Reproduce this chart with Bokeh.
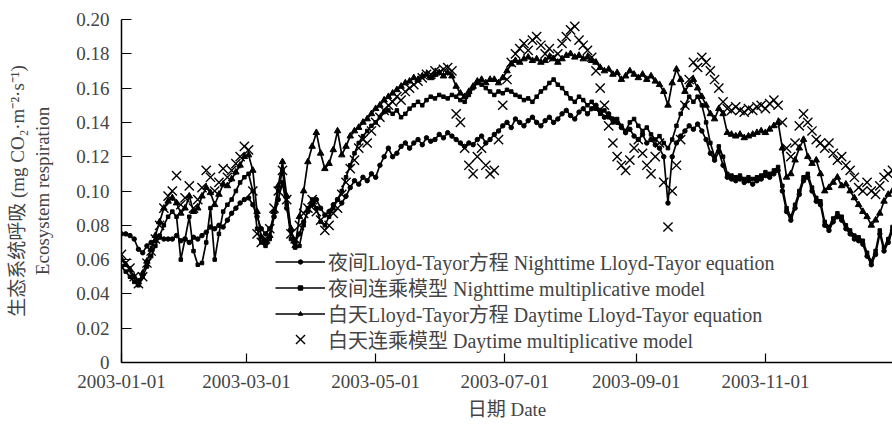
import datetime as dt

import pandas as pd
from bokeh.embed import file_html
from bokeh.models import (CustomJSTickFormatter, DatetimeTickFormatter, FixedTicker,
                          Legend, LegendItem, Range1d, Title)
from bokeh.plotting import figure
from bokeh.resources import INLINE

# Daily ecosystem respiration (mg CO2 m-2 s-1), sampled every second day of 2003
dates = pd.date_range("2003-01-01", "2003-12-31", freq="2D")

night_lt = [
    0.075, 0.075, 0.074, 0.072, 0.066, 0.064, 0.068, 0.070, 0.071, 0.073,
    0.072, 0.072, 0.072, 0.074, 0.071, 0.072, 0.070, 0.073, 0.072, 0.074,
    0.076, 0.079, 0.078, 0.080, 0.079, 0.083, 0.087, 0.090, 0.093, 0.095,
    0.096, 0.092, 0.085, 0.078, 0.075, 0.078, 0.085, 0.095, 0.105, 0.090,
    0.077, 0.070, 0.075, 0.082, 0.088, 0.092, 0.095, 0.090, 0.086, 0.088,
    0.092, 0.095, 0.093, 0.097, 0.102, 0.106, 0.104, 0.108, 0.106, 0.110,
    0.108, 0.115, 0.120, 0.125, 0.120, 0.122, 0.126, 0.128, 0.125, 0.128,
    0.130, 0.127, 0.131, 0.129, 0.130, 0.133, 0.131, 0.134, 0.132, 0.130,
    0.128, 0.126, 0.128, 0.127, 0.130, 0.132, 0.128, 0.130, 0.133, 0.135,
    0.138, 0.140, 0.137, 0.142, 0.140, 0.138, 0.141, 0.143, 0.140, 0.138,
    0.141, 0.143, 0.140, 0.142, 0.145, 0.147, 0.144, 0.142, 0.146, 0.148,
    0.145, 0.148, 0.150, 0.147, 0.143, 0.145, 0.142, 0.140, 0.137, 0.134,
    0.136, 0.132, 0.130, 0.133, 0.128, 0.130, 0.127, 0.125, 0.120, 0.093,
    0.120, 0.128, 0.132, 0.135, 0.138, 0.136, 0.139, 0.135, 0.130, 0.122,
    0.118, 0.123, 0.115, 0.108, 0.107, 0.106, 0.107, 0.105, 0.106, 0.104,
    0.106, 0.107, 0.109, 0.108, 0.110, 0.112, 0.100, 0.088, 0.083, 0.090,
    0.098, 0.106, 0.108, 0.100, 0.094, 0.092, 0.080, 0.077, 0.082, 0.085,
    0.083, 0.078, 0.075, 0.072, 0.071, 0.069, 0.062, 0.057, 0.063, 0.075,
    0.065, 0.070, 0.077,
]

night_mult = [
    0.056, 0.053, 0.050, 0.047, 0.045, 0.050, 0.056, 0.062, 0.068, 0.074,
    0.080, 0.085, 0.088, 0.085, 0.060, 0.072, 0.085, 0.065, 0.057, 0.058,
    0.070, 0.090, 0.060, 0.075, 0.088, 0.092, 0.095, 0.100, 0.105, 0.108,
    0.110, 0.100, 0.078, 0.070, 0.068, 0.072, 0.085, 0.100, 0.112, 0.092,
    0.072, 0.067, 0.068, 0.080, 0.090, 0.095, 0.090, 0.082, 0.080, 0.085,
    0.090, 0.095, 0.100, 0.108, 0.115, 0.122, 0.128, 0.132, 0.135, 0.138,
    0.140, 0.143, 0.146, 0.147, 0.145, 0.147, 0.143, 0.145, 0.148, 0.150,
    0.152, 0.150, 0.153, 0.155, 0.154, 0.156, 0.155, 0.154, 0.156, 0.155,
    0.153, 0.152, 0.156, 0.160, 0.163, 0.162, 0.160, 0.158, 0.156, 0.158,
    0.157, 0.159, 0.158, 0.156, 0.155, 0.153, 0.154, 0.152, 0.155, 0.158,
    0.160, 0.163, 0.165, 0.162, 0.160, 0.157, 0.154, 0.152, 0.155, 0.153,
    0.150, 0.152, 0.148, 0.145, 0.147, 0.143, 0.140, 0.142, 0.138, 0.135,
    0.140, 0.142, 0.138, 0.135, 0.137, 0.133, 0.130, 0.132, 0.128, 0.125,
    0.130, 0.138, 0.145, 0.150, 0.155, 0.152, 0.155, 0.150, 0.140, 0.128,
    0.120, 0.126, 0.120, 0.110, 0.109, 0.108, 0.109, 0.107, 0.108, 0.107,
    0.108, 0.109, 0.111, 0.110, 0.112, 0.114, 0.103, 0.090, 0.085, 0.092,
    0.100, 0.108, 0.110, 0.102, 0.096, 0.094, 0.082, 0.079, 0.084, 0.087,
    0.085, 0.080, 0.077, 0.074, 0.073, 0.071, 0.064, 0.059, 0.065, 0.077,
    0.067, 0.072, 0.079,
]

day_lt = [
    0.060, 0.057, 0.054, 0.050, 0.047, 0.052, 0.059, 0.066, 0.074, 0.082,
    0.090, 0.094, 0.096, 0.093, 0.087, 0.090, 0.097, 0.088, 0.090, 0.097,
    0.102, 0.099, 0.092, 0.098, 0.104, 0.103, 0.107, 0.111, 0.115, 0.120,
    0.121, 0.112, 0.088, 0.073, 0.070, 0.074, 0.088, 0.103, 0.117, 0.097,
    0.078, 0.068, 0.085, 0.100, 0.117, 0.126, 0.134, 0.122, 0.113, 0.116,
    0.124, 0.135, 0.121, 0.126, 0.132, 0.135, 0.137, 0.140, 0.142, 0.145,
    0.148, 0.150, 0.153, 0.155, 0.157, 0.159, 0.161, 0.163, 0.164, 0.166,
    0.165, 0.167, 0.168, 0.166, 0.168, 0.169, 0.167, 0.169, 0.167, 0.161,
    0.157, 0.155, 0.158, 0.161, 0.164, 0.165, 0.163, 0.165, 0.165, 0.163,
    0.166, 0.170, 0.174, 0.176, 0.175, 0.177, 0.178, 0.176, 0.177, 0.175,
    0.176, 0.178, 0.177, 0.175, 0.177, 0.179, 0.180, 0.178, 0.179, 0.177,
    0.178, 0.176, 0.175, 0.172, 0.170, 0.171, 0.168, 0.169, 0.165, 0.167,
    0.170, 0.168, 0.166, 0.168, 0.165, 0.167, 0.164, 0.162, 0.158, 0.150,
    0.163, 0.171, 0.165, 0.158, 0.162, 0.165, 0.160, 0.155, 0.150, 0.145,
    0.142, 0.148, 0.145, 0.134, 0.133, 0.132, 0.133, 0.131, 0.132, 0.133,
    0.134, 0.135, 0.134, 0.136, 0.138, 0.140, 0.125, 0.108, 0.110, 0.118,
    0.125, 0.130, 0.120, 0.116, 0.118, 0.110, 0.100, 0.102, 0.105, 0.108,
    0.103, 0.104, 0.100, 0.096, 0.092, 0.088, 0.085, 0.080, 0.083, 0.087,
    0.094, 0.098, 0.100,
]

day_mult = [
    0.063, 0.058, 0.055, 0.050, 0.046, 0.050, 0.058, 0.065, 0.072, 0.080,
    0.090, 0.097, 0.100, 0.109, 0.092, 0.096, 0.103, 0.090, 0.095, 0.102,
    0.112, 0.108, 0.100, 0.105, 0.113, 0.108, 0.112, 0.116, 0.120, 0.126,
    0.124, 0.100, 0.075, 0.070, 0.072, 0.078, 0.090, 0.100, 0.112, 0.095,
    0.075, 0.072, 0.080, 0.087, 0.090, 0.095, 0.088, 0.083, 0.077, 0.080,
    0.087, 0.090, 0.098, 0.105, 0.113, 0.118, 0.125, 0.130, 0.128, 0.135,
    0.140, 0.143, 0.147, 0.150, 0.152, 0.155, 0.153, 0.158, 0.160, 0.162,
    0.164, 0.166, 0.168, 0.168, 0.170, 0.169, 0.171, 0.172, 0.170, 0.145,
    0.140, 0.125, 0.115, 0.110, 0.120, 0.125, 0.115, 0.110, 0.112, 0.130,
    0.150, 0.165, 0.175, 0.180, 0.183, 0.186, 0.182, 0.188, 0.190, 0.185,
    0.180, 0.183, 0.178, 0.180, 0.186, 0.190, 0.194, 0.196, 0.188, 0.185,
    0.182, 0.178, 0.170, 0.160, 0.150, 0.138, 0.128, 0.120, 0.115, 0.112,
    0.118, 0.125, 0.130, 0.122, 0.115, 0.110, 0.120, 0.128, 0.105, 0.079,
    0.100, 0.115, 0.130, 0.150, 0.165, 0.175, 0.172, 0.178, 0.175, 0.170,
    0.165, 0.160, 0.152, 0.148, 0.147, 0.149, 0.147, 0.146, 0.148, 0.147,
    0.149, 0.150, 0.148, 0.151, 0.153, 0.150, 0.140, 0.125, 0.120, 0.128,
    0.138, 0.145, 0.140, 0.135, 0.130, 0.128, 0.125, 0.128, 0.122, 0.118,
    0.120, 0.115, 0.112, 0.108, 0.102, 0.100, 0.105, 0.100, 0.098, 0.103,
    0.108, 0.110, 0.112,
]

legend_labels = [
    "夜间Lloyd-Tayor方程 Nighttime Lloyd-Tayor equation",
    "夜间连乘模型 Nighttime multiplicative model",
    "白天Lloyd-Tayor方程 Daytime Lloyd-Tayor equation",
    "白天连乘模型 Daytime multiplicative model",
]
tick_dates = ["2003-01-01", "2003-03-01", "2003-05-01", "2003-07-01", "2003-09-01", "2003-11-01"]
y_ticks = [0.0, 0.02, 0.04, 0.06, 0.08, 0.10, 0.12, 0.14, 0.16, 0.18, 0.20]

FONT = "'Liberation Serif', 'Noto Sans CJK SC', serif"
FS = "19px"
INK = "#000000"

p = figure(width=892, height=426, x_axis_type="datetime",
           output_backend="svg", toolbar_location=None,
           min_border_left=121, min_border_right=0,
           min_border_top=19, min_border_bottom=64)
p.x_range = Range1d(start=dt.datetime(2003, 1, 1), end=dt.datetime(2003, 12, 31))
p.y_range = Range1d(start=0, end=0.20)
p.outline_line_color = None
p.xgrid.visible = False
p.ygrid.visible = False
p.background_fill_color = "white"
p.border_fill_color = "white"

# series: nighttime Lloyd-Taylor (dots), nighttime multiplicative (small squares),
# daytime Lloyd-Taylor (triangles), daytime multiplicative (crosses only)
l1 = p.line(dates, night_lt, line_color=INK, line_width=1.7)
m1 = p.scatter(dates, night_lt, marker="circle", size=4.5, color=INK)
l2 = p.line(dates, night_mult, line_color=INK, line_width=1.7)
m2 = p.scatter(dates, night_mult, marker="square", size=3.5, color=INK)
l3 = p.line(dates, day_lt, line_color=INK, line_width=1.7)
m3 = p.scatter(dates, day_lt, marker="triangle", size=6.5, color=INK)
m4 = p.scatter(dates, day_mult, marker="x", size=13, line_color=INK, line_width=1.4)

# axes
xa = p.xaxis[0]
xa.ticker = FixedTicker(ticks=[pd.Timestamp(d).value // 10**6 for d in tick_dates])
fmt = "%Y-%m-%d"
xa.formatter = DatetimeTickFormatter(milliseconds=fmt, seconds=fmt, minsec=fmt, minutes=fmt,
                                     hourmin=fmt, hours=fmt, days=fmt, months=fmt, years=fmt)
xa.axis_label = "日期 Date"
xa.axis_label_text_font = FONT
xa.axis_label_text_font_size = FS
xa.axis_label_text_font_style = "normal"
xa.axis_label_standoff = 8
xa.major_label_text_font = FONT
xa.major_label_text_font_size = FS
xa.major_label_standoff = 12
xa.major_tick_in = 9
xa.major_tick_out = 0
xa.minor_tick_line_color = None
xa.axis_line_width = 1.5
xa.major_tick_line_width = 1.2

ya = p.yaxis[0]
ya.ticker = FixedTicker(ticks=y_ticks)
ya.formatter = CustomJSTickFormatter(code="return tick < 1e-9 ? '0' : tick.toFixed(2);")
ya.axis_label = "Ecosystem respiration"
ya.axis_label_text_font = FONT
ya.axis_label_text_font_size = FS
ya.axis_label_text_font_style = "normal"
ya.axis_label_standoff = 20
ya.major_label_text_font = FONT
ya.major_label_text_font_size = FS
ya.major_label_standoff = 12
ya.major_tick_in = 10
ya.major_tick_out = 0
ya.minor_tick_line_color = None
ya.axis_line_width = 1.5
ya.major_tick_line_width = 1.2

p.add_layout(Title(text="生态系统呼吸 (mg CO₂·m⁻²·s⁻¹)", align="center",
                   text_font=FONT, text_font_size=FS, text_font_style="normal",
                   standoff=4), "left")

legend_style = dict(orientation="vertical", glyph_width=50, label_height=20,
                    padding=0, margin=0, label_standoff=3, spacing=0,
                    border_line_color=None, background_fill_alpha=0,
                    label_text_font=FONT, label_text_font_size="20px")

# one legend box per entry so each row sits at its own height;
# line entries use a small sample box, the cross entry a larger one
legend_rows = [
    ([l1, m1], 86, 11),
    ([l2, m2], 60, 11),
    ([l3, m3], 34, 11),
    ([m4], 7, 32),
]
for label, (rends, y_off, gh) in zip(legend_labels, legend_rows):
    lg = Legend(items=[LegendItem(label=label, renderers=rends)],
                location=(154, y_off), glyph_height=gh, **legend_style)
    p.add_layout(lg)

open("out.html", "w").write(file_html(p, INLINE))
